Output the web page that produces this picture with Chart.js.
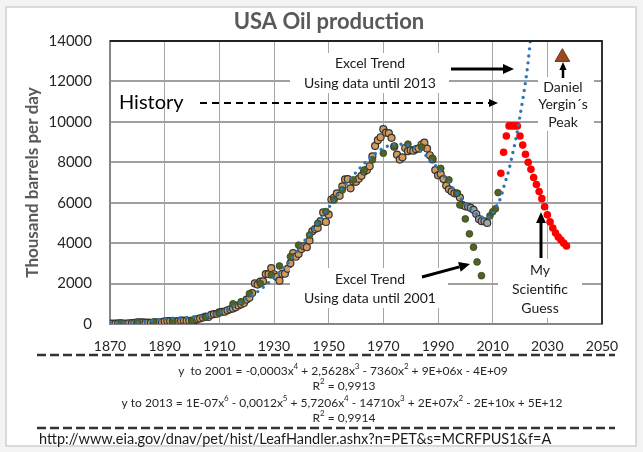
<!DOCTYPE html>
<html>
<head>
<meta charset="utf-8">
<script src="https://cdn.jsdelivr.net/npm/chart.js@4.4.0/dist/chart.umd.min.js"></script>
<style>
html, body { margin: 0; padding: 0; background: #fff; }
#wrap { position: relative; width: 643px; height: 452px; }
</style>
</head>
<body>
<div id="wrap"><canvas id="oilChart"></canvas></div>
<script>
// annual history (thousand barrels per day)
var historyYears = [
    1870,1871,1872,1873,1874,1875,1876,1877,1878,1879,
    1880,1881,1882,1883,1884,1885,1886,1887,1888,1889,
    1890,1891,1892,1893,1894,1895,1896,1897,1898,1899,
    1900,1901,1902,1903,1904,1905,1906,1907,1908,1909,
    1910,1911,1912,1913,1914,1915,1916,1917,1918,1919,
    1920,1921,1922,1923,1924,1925,1926,1927,1928,1929,
    1930,1931,1932,1933,1934,1935,1936,1937,1938,1939,
    1940,1941,1942,1943,1944,1945,1946,1947,1948,1949,
    1950,1951,1952,1953,1954,1955,1956,1957,1958,1959,
    1960,1961,1962,1963,1964,1965,1966,1967,1968,1969,
    1970,1971,1972,1973,1974,1975,1976,1977,1978,1979,
    1980,1981,1982,1983,1984,1985,1986,1987,1988,1989,
    1990,1991,1992,1993,1994,1995,1996,1997,1998,1999,
    2000];
var historyValues = [
    14,14,17,27,30,24,25,37,42,55,
    72,76,82,64,66,60,77,78,75,96,
    125,149,139,133,135,145,166,166,151,156,
    174,190,243,275,321,369,347,456,489,502,
    574,603,611,680,729,770,824,919,975,1038,
    1210,1294,1529,2007,1951,2097,2112,2469,2463,2760,
    2460,2332,2145,2481,2486,2730,3002,3505,3328,3466,
    3707,3842,3796,4125,4584,4695,4751,5088,5520,5046,
    5407,6158,6256,6458,6342,6807,7151,7170,6710,7054,
    7035,7183,7332,7542,7614,7804,8295,8810,9096,9238,
    9637,9463,9441,9208,8774,8375,8132,8245,8707,8552,
    8597,8572,8649,8688,8879,8971,8680,8349,8140,7613,
    7355,7417,7171,6847,6662,6560,6465,6452,6252,5881,
    5822];

var recentYears  = [2001,2002,2003,2004,2005,2006,2007,2008];
var recentValues = [5801,5744,5649,5441,5184,5086,5077,5000];

// green markers: trend to 2001 plus latest years
var greenYears  = [1874,1880,1886,1893,1900,1905,1910,1915,1918,1921,1925,1929,1932,1936,1939,1943,1946,1949,1952,1955,1959,1963,1966,1970,1974,1979,1984,1988,1991,1994,1997,1998,2000,2001.5,2003,2004.3,2005.9,2009,2010,2011,2012];
var greenValues = [50,100,90,130,150,350,540,1000,1100,1500,2000,2430,2870,3330,3900,4400,4980,5560,6140,6630,7130,7620,8120,8450,8800,8900,8750,8200,7700,7130,6470,5890,5200,4460,3800,3070,2390,5350,5550,5700,6500];

// excel trend using data until 2013
var trendYears  = [1870,1880,1890,1900,1910,1920,1925,1930,1935,1940,1945,1950,1955,1960,1965,1970,1975,1980,1985,1990,1995,2000,2005,2008,2010,2012,2013,2014,2015,2016,2017,2018,2019,2020,2021,2022,2023,2024];
var trendValues = [60,80,250,350,560,1250,1700,2300,3000,3900,4800,5750,6700,7500,8200,8700,8900,8800,8400,7700,6800,5950,5350,5250,5450,6000,6250,6750,7200,7650,8250,8850,9500,10300,11100,11950,13000,14300];

// my scientific guess
var guessYears  = [2013,2014,2015,2016,2017,2018,2019,2020,2021,2022,2023,2024,2025,2026,2027,2028,2029,2030,2031,2032,2033,2034,2035,2036,2037];
var guessValues = [7460,8500,9300,9800,9800,9800,9800,9300,8850,8400,8000,7650,7250,6900,6550,6200,5800,5400,5050,4750,4500,4300,4150,4000,3860];

var yerginYears  = [2035.5];
var yerginValues = [13200];

var formulaLines = [
    'y  to 2001 = -0,0003x^4 + 2,5628x^3 - 7360x^2 + 9E+06x - 4E+09',
    'R^2 = 0,9913',
    'y to 2013 = 1E-07x^6 - 0,0012x^5 + 5,7206x^4 - 14710x^3 + 2E+07x^2 - 2E+10x + 5E+12',
    'R^2 = 0,9914'
];
var sourceUrl = 'http://www.eia.gov/dnav/pet/hist/LeafHandler.ashx?n=PET&s=MCRFPUS1&f=A';

function pts(xs, ys) {
    return xs.map(function(x, i) { return { x: x, y: ys[i] }; });
}

function arrow(ctx, x1, y1, x2, y2, w, head, dash) {
    var ang = Math.atan2(y2 - y1, x2 - x1);
    var bx = x2 - head * Math.cos(ang), by = y2 - head * Math.sin(ang);
    var hw = head * 0.45;
    ctx.save();
    ctx.strokeStyle = '#000';
    ctx.fillStyle = '#000';
    ctx.lineWidth = w;
    if (dash) ctx.setLineDash(dash);
    ctx.beginPath();
    ctx.moveTo(x1, y1);
    ctx.lineTo(bx, by);
    ctx.stroke();
    ctx.setLineDash([]);
    ctx.beginPath();
    ctx.moveTo(x2, y2);
    ctx.lineTo(bx + hw * Math.sin(ang), by - hw * Math.cos(ang));
    ctx.lineTo(bx - hw * Math.sin(ang), by + hw * Math.cos(ang));
    ctx.closePath();
    ctx.fill();
    ctx.restore();
}

function textBox(ctx, lines, cx, y0, dy, font, box) {
    ctx.save();
    ctx.fillStyle = '#fff';
    ctx.fillRect(box[0], box[1], box[2] - box[0], box[3] - box[1]);
    ctx.fillStyle = '#1a1a1a';
    ctx.font = font;
    ctx.textAlign = 'center';
    ctx.textBaseline = 'middle';
    lines.forEach(function(t, i) { ctx.fillText(t, cx, y0 + i * dy); });
    ctx.restore();
}

function richLine(ctx, str, cx, y, size) {
    var parts = str.split(/\^(\d)/);
    var base = size + 'px Lato', sup = Math.round(size * 0.65) + 'px Lato';
    var total = 0;
    parts.forEach(function(p, i) {
        ctx.font = i % 2 ? sup : base;
        total += ctx.measureText(p).width;
    });
    var x = cx - total / 2;
    ctx.textAlign = 'left';
    ctx.textBaseline = 'middle';
    parts.forEach(function(p, i) {
        ctx.font = i % 2 ? sup : base;
        ctx.fillText(p, x, i % 2 ? y - size * 0.35 : y);
        x += ctx.measureText(p).width;
    });
}

function dashLine(ctx, y) {
    ctx.save();
    ctx.strokeStyle = '#333';
    ctx.lineWidth = 2.5;
    ctx.setLineDash([9, 4]);
    ctx.beginPath();
    ctx.moveTo(37, y);
    ctx.lineTo(615, y);
    ctx.stroke();
    ctx.restore();
}

var decor = {
    id: 'decor',
    beforeDraw: function(chart) {
        var ctx = chart.ctx;
        ctx.save();
        ctx.fillStyle = '#f3f3f3';
        ctx.fillRect(0, 0, chart.width, chart.height);
        ctx.fillStyle = '#fff';
        ctx.fillRect(6, 7, 630, 439);
        ctx.strokeStyle = '#cfcfcf';
        ctx.lineWidth = 1.5;
        ctx.strokeRect(6, 7, 630, 439);
        ctx.restore();
    },
    afterDraw: function(chart) {
        var ctx = chart.ctx, a = chart.chartArea;
        ctx.save();
        // plot frame top and right
        ctx.strokeStyle = '#222';
        ctx.lineWidth = 1.8;
        ctx.beginPath();
        ctx.moveTo(a.left, a.top);
        ctx.lineTo(a.right, a.top);
        ctx.lineTo(a.right, a.bottom);
        ctx.stroke();

        // title
        ctx.fillStyle = '#595959';
        ctx.font = 'bold 22px Lato';
        ctx.textAlign = 'center';
        ctx.textBaseline = 'middle';
        ctx.fillText('USA Oil production', 329, 22);

        // annotations
        textBox(ctx, ['Excel Trend', 'Using data until 2013'], 370, 63, 20, '14px Lato', [290, 53, 449, 93]);
        arrow(ctx, 451, 69, 514, 69, 3, 11);
        ctx.fillStyle = '#000';
        ctx.font = '20px Lato';
        ctx.textAlign = 'left';
        ctx.fillText('History', 119, 103);
        arrow(ctx, 200, 103, 498, 103, 2, 9, [7, 5]);
        textBox(ctx, ['Daniel', 'Yergin\u00b4s', 'Peak'], 563, 87, 17.5, '14px Lato', [538, 77, 594, 131]);
        arrow(ctx, 563, 78, 563, 62, 2.5, 8);
        textBox(ctx, ['Excel Trend', 'Using data until 2001'], 370, 279, 19, '14px Lato', [290, 268, 448, 308]);
        arrow(ctx, 422, 277, 470, 264, 3, 11);
        textBox(ctx, ['My', 'Scientific', 'Guess'], 540, 270, 19, '14px Lato', [498, 259, 582, 318]);
        arrow(ctx, 541, 258, 541, 212, 3, 11);

        // formulas and source
        dashLine(ctx, 355);
        ctx.fillStyle = '#262626';
        richLine(ctx, formulaLines[0], 343, 371, 12);
        richLine(ctx, formulaLines[1], 344, 386, 12);
        richLine(ctx, formulaLines[2], 342, 403, 12);
        richLine(ctx, formulaLines[3], 344, 418, 12);
        dashLine(ctx, 428);
        ctx.fillStyle = '#1a1a1a';
        ctx.font = '14.5px Lato';
        ctx.textAlign = 'left';
        ctx.textBaseline = 'middle';
        ctx.fillText(sourceUrl, 39, 439);
        ctx.restore();
    }
};

var ctx = document.getElementById('oilChart').getContext('2d');
var oilChart = new Chart(ctx, {
    type: 'scatter',
    data: {
        datasets: [
            {
                label: 'Yergin',
                data: pts(yerginYears, yerginValues),
                pointStyle: 'triangle',
                pointRadius: 8.5,
                backgroundColor: '#9b4a1e',
                borderColor: '#6e3210',
                borderWidth: 1,
                order: 0
            },
            {
                label: 'Trend to 2013',
                data: pts(trendYears, trendValues),
                showLine: true,
                pointRadius: 0,
                borderColor: '#2e75b6',
                borderWidth: 3.4,
                borderDash: [0, 7],
                borderCapStyle: 'round',
                tension: 0.4,
                cubicInterpolationMode: 'monotone',
                order: 1
            },
            {
                label: 'Guess',
                data: pts(guessYears, guessValues),
                pointRadius: 3.8,
                backgroundColor: '#ff0000',
                borderColor: '#ff0000',
                borderWidth: 0,
                order: 2
            },
            {
                label: 'Trend to 2001',
                data: pts(greenYears, greenValues),
                pointRadius: 3.4,
                backgroundColor: '#4f6228',
                borderColor: '#3a481c',
                borderWidth: 0.8,
                order: 3
            },
            {
                label: 'Recent',
                data: pts(recentYears, recentValues),
                pointRadius: 3.5,
                backgroundColor: '#a3a3a3',
                borderColor: '#333',
                borderWidth: 1.2,
                order: 4
            },
            {
                label: 'History',
                data: pts(historyYears, historyValues),
                pointRadius: 3.5,
                backgroundColor: '#d39a5e',
                borderColor: '#333',
                borderWidth: 1.2,
                order: 5
            }
        ]
    },
    options: {
        responsive: true,
        maintainAspectRatio: false,
        animation: false,
        layout: { padding: { left: 0, top: 41, right: 41, bottom: 0 } },
        plugins: {
            legend: { display: false },
            tooltip: { enabled: false }
        },
        scales: {
            x: {
                type: 'linear',
                min: 1870,
                max: 2050,
                ticks: {
                    stepSize: 20,
                    color: '#262626',
                    font: { family: 'Lato', size: 14 },
                    padding: 14,
                    maxRotation: 0,
                    callback: function(v) { return String(v); }
                },
                grid: { color: '#a6a6a6', lineWidth: 1, drawTicks: false },
                border: { display: true, color: '#868686', width: 2 },
                afterFit: function(s) { s.height = 128; }
            },
            y: {
                min: 0,
                max: 14000,
                ticks: {
                    stepSize: 2000,
                    color: '#262626',
                    font: { family: 'Lato', size: 15 },
                    padding: 18,
                    callback: function(v) { return String(v); }
                },
                grid: { color: '#a0a0a0', lineWidth: 2, drawTicks: false },
                border: { display: true, color: '#868686', width: 2 },
                title: {
                    display: true,
                    text: 'Thousand barrels per day',
                    color: '#595959',
                    font: { family: 'Lato', size: 17, weight: 'bold' },
                    padding: { top: 22, bottom: 0 }
                },
                afterFit: function(s) { s.width = 110; }
            }
        }
    },
    plugins: [decor]
});
</script>
</body>
</html>
